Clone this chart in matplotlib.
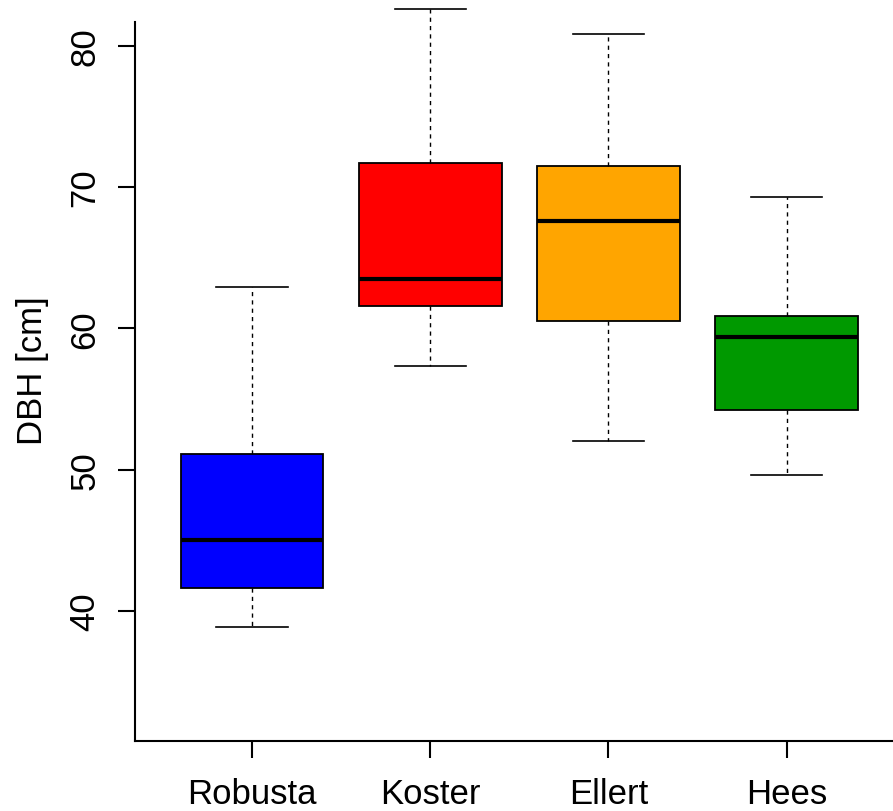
import matplotlib.pyplot as plt

plt.rcParams['font.family'] = ['Liberation Sans', 'DejaVu Sans']

# data
sorten = ['Robusta', 'Koster', 'Ellert', 'Hees']
whis_lo = [38.9, 57.3, 52.0, 49.6]
q1 = [41.6, 61.6, 60.5, 54.2]
median = [45.0, 63.5, 67.6, 59.4]
q3 = [51.1, 71.7, 71.5, 60.9]
whis_hi = [62.9, 82.6, 80.8, 69.3]
farben = ['#0000FF', '#FF0000', '#FFA500', '#009900']

stats = []
for i, name in enumerate(sorten):
    stats.append({'label': name, 'whislo': whis_lo[i], 'q1': q1[i], 'med': median[i],
                  'q3': q3[i], 'whishi': whis_hi[i], 'fliers': []})

fig = plt.figure(figsize=(8.93, 8.12), dpi=100)
ax = fig.add_axes([0.151, 0.0862, 0.849, 0.9138])

bp = ax.bxp(stats, positions=[1, 2, 3, 4], widths=0.8, capwidths=0.4,
            patch_artist=True, showfliers=False,
            boxprops=dict(linewidth=1.3, edgecolor='black'),
            medianprops=dict(color='black', linewidth=3),
            whiskerprops=dict(color='black', linewidth=1, linestyle=(0, (3, 3))),
            capprops=dict(color='black', linewidth=1.2))
for patch, c in zip(bp['boxes'], farben):
    patch.set_facecolor(c)

ax.set_xlim(0.343, 4.596)
ax.set_ylim(30.8, 83.3)
ax.set_yticks([40, 50, 60, 70, 80])
ax.set_xticks([1, 2, 3, 4])
ax.set_xticklabels(sorten)

for s in ['top', 'right']:
    ax.spines[s].set_visible(False)
ax.spines['left'].set_bounds(30.8, 81.7)
ax.spines['left'].set_linewidth(1.5)
ax.spines['bottom'].set_linewidth(1.5)

ax.tick_params(axis='y', length=12, width=1.5, pad=12, labelsize=25, labelrotation=90)
ax.tick_params(axis='x', length=12, width=1.5, pad=14, labelsize=25)
for lbl in ax.get_yticklabels():
    lbl.set_verticalalignment('center')

ax.set_ylabel('DBH [cm]', fontsize=25, labelpad=14)

fig.savefig('out.png', dpi=100)
